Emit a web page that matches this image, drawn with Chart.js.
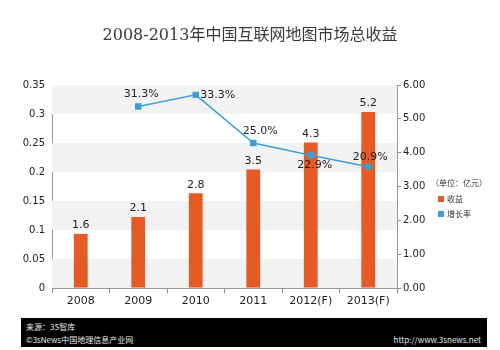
<!DOCTYPE html>
<html>
<head>
<meta charset="utf-8">
<script src="https://cdn.jsdelivr.net/npm/chart.js@4"></script>
<style>
  body { margin: 0; background: #fff; }
  #wrap { position: relative; width: 500px; height: 350px; }
  #chart { position: absolute; left: 0; top: 0; }
  #title {
    position: absolute; left: 0; top: 21px; width: 500px; text-align: center;
    font: 16px "DejaVu Serif", "Liberation Serif", "Noto Sans CJK SC", serif; color: #3a3a3a;
  }
  #footer {
    position: absolute; left: 21px; top: 318px; width: 466px; height: 29px; background: #000;
    color: #e8e8e8; font: 8px "Noto Sans CJK SC", "DejaVu Sans", sans-serif;
  }
  #footer .a { position: absolute; left: 5px; top: 3px; }
  #footer .b { position: absolute; left: 5px; top: 16px; }
  #footer .c { position: absolute; right: 6px; top: 16px; }
</style>
</head>
<body>
<div id="wrap">
  <canvas id="chart" width="500" height="350"></canvas>
  <div id="title">2008-2013年中国互联网地图市场总收益</div>
  <div id="footer">
    <span class="a">来源：3S智库</span>
    <span class="b">©3sNews中国地理信息产业网</span>
    <span class="c">http://www.3snews.net</span>
  </div>
</div>
<script>
// 数据
const years = ["2008", "2009", "2010", "2011", "2012(F)", "2013(F)"];
const revenue = [1.6, 2.1, 2.8, 3.5, 4.3, 5.2];          // 收益（亿元）
const growth = [null, 0.313, 0.333, 0.25, 0.229, 0.209]; // 增长率
const leftTicks = [0, 0.05, 0.1, 0.15, 0.2, 0.25, 0.3, 0.35];

const barColor = "#e55a25";
const lineColor = "#3d9fd6";
const tickFont = { family: "DejaVu Sans", size: 10 };

// смещения подписей линии относительно точки
const lineLabelOffsets = [null, [3, -12], [22, 0], [7, -12], [4, 10], [2, -10]];

// Фоновые полосы
const bandsPlugin = {
  id: "bands",
  beforeDatasetsDraw(chart) {
    const { ctx, chartArea, scales } = chart;
    const y = scales.y;
    ctx.save();
    ctx.fillStyle = "#f2f2f2";
    for (let i = 0; i < leftTicks.length - 1; i += 2) {
      const top = y.getPixelForValue(leftTicks[i + 1]);
      const bot = y.getPixelForValue(leftTicks[i]);
      ctx.fillRect(chartArea.left, top, chartArea.right - chartArea.left, bot - top);
    }
    ctx.restore();
  },
};

// Подписи значений и легенда
const labelsPlugin = {
  id: "labels",
  afterDatasetsDraw(chart) {
    const { ctx } = chart;
    ctx.save();
    ctx.font = "11px 'DejaVu Sans'";
    ctx.fillStyle = "#222";
    ctx.textAlign = "center";
    ctx.textBaseline = "bottom";
    chart.getDatasetMeta(0).data.forEach((bar, i) => {
      ctx.fillText(revenue[i].toFixed(1), bar.x, bar.y - 3);
    });
    ctx.textBaseline = "middle";
    chart.getDatasetMeta(1).data.forEach((pt, i) => {
      if (growth[i] === null) return;
      const [dx, dy] = lineLabelOffsets[i];
      ctx.fillText((growth[i] * 100).toFixed(1) + "%", pt.x + dx, pt.y + dy);
    });

    // легенда
    ctx.font = "8px 'Noto Sans CJK SC'";
    ctx.textAlign = "left";
    ctx.fillStyle = "#333";
    ctx.fillText("（单位：亿元）", 431, 183);
    ctx.fillStyle = barColor;
    ctx.fillRect(438, 196, 6, 6);
    ctx.fillStyle = lineColor;
    ctx.fillRect(438, 211, 6, 6);
    ctx.fillStyle = "#333";
    ctx.fillText("收益", 447, 199);
    ctx.fillText("增长率", 447, 214);
    ctx.restore();
  },
};

new Chart(document.getElementById("chart"), {
  data: {
    labels: years,
    datasets: [
      {
        type: "bar",
        label: "收益",
        data: revenue,
        yAxisID: "y1",
        backgroundColor: barColor,
        barPercentage: 0.48,
        categoryPercentage: 0.5,
        order: 2,
      },
      {
        type: "line",
        label: "增长率",
        data: growth,
        yAxisID: "y",
        borderColor: lineColor,
        backgroundColor: lineColor,
        borderWidth: 1.5,
        pointStyle: "rect",
        pointRadius: 3.5,
        spanGaps: false,
        order: 1,
      },
    ],
  },
  options: {
    responsive: false,
    animation: false,
    layout: { padding: { left: 0, right: 0, top: 85, bottom: 32 } },
    plugins: { legend: { display: false }, tooltip: { enabled: false } },
    scales: {
      x: {
        offset: true,
        grid: { offset: true, drawOnChartArea: false, tickLength: 5, color: "#888" },
        border: { color: "#999" },
        ticks: { font: { family: "DejaVu Sans", size: 11 }, color: "#222", padding: 2 },
        afterFit(s) { s.height = 30; },
      },
      y: {
        position: "left",
        min: 0,
        max: 0.35,
        afterBuildTicks(s) { s.ticks = leftTicks.map((v) => ({ value: v })); },
        grid: { drawOnChartArea: false, drawTicks: false },
        border: { color: "#999" },
        ticks: {
          font: tickFont,
          color: "#222",
          padding: 7,
          callback: (v) => String(+v.toFixed(2)),
        },
        afterFit(s) { s.width = 52; },
      },
      y1: {
        position: "right",
        min: 0,
        max: 6,
        grid: { drawOnChartArea: false, tickLength: 4, color: "#888" },
        border: { color: "#999" },
        ticks: {
          font: tickFont,
          color: "#222",
          stepSize: 1,
          padding: 2,
          callback: (v) => v.toFixed(2),
        },
        afterFit(s) { s.width = 103; },
      },
    },
  },
  plugins: [bandsPlugin, labelsPlugin],
});
</script>
</body>
</html>
